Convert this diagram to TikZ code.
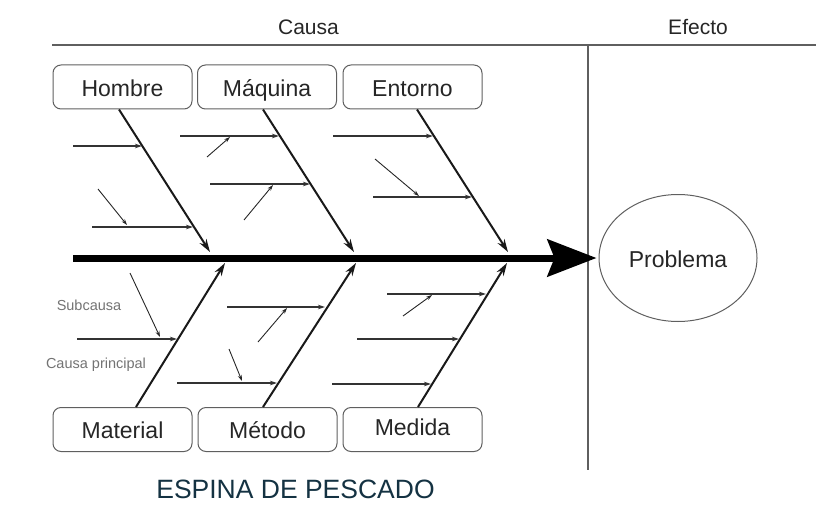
\documentclass[tikz,border=0pt]{standalone}
\usepackage{fontspec}
\setmainfont{Liberation Sans}
\usetikzlibrary{arrows.meta,shapes.geometric}
\definecolor{capcol}{RGB}{20,50,66}
\definecolor{framecol}{RGB}{95,95,95}
\begin{document}
\begin{tikzpicture}[x=1pt,y=-1pt,
  box/.style={draw=framecol,line width=1pt,rounded corners=8pt,minimum width=139pt,minimum height=44pt,inner sep=0pt,font=\fontsize{23}{26}\selectfont,text=black!85,text height=20pt,text depth=0pt},
  bone/.style={line width=2pt,draw=black!90,-{Stealth[length=13pt,width=8pt]}},
  sub/.style={line width=1.1pt,draw=black!80,-{Stealth[length=7pt,width=4.5pt]}},
  diag/.style={line width=0.9pt,draw=black!85,-{Stealth[length=6pt,width=4pt]}},
  head/.style={font=\fontsize{21}{24}\selectfont,text=black!85,anchor=base,inner sep=0pt},
  small/.style={font=\fontsize{14.5}{16}\selectfont,text=black!55,anchor=base,inner sep=0pt},
  frame/.style={draw=framecol,line width=1.2pt}]
\useasboundingbox (0,0) rectangle (826,508);
% header
\coordinate (tl) at (52,45);
\coordinate (tr) at (816,45);
\coordinate (vt) at (588,45);
\coordinate (vb) at (588,470);
\draw[frame] (tl) -- (tr);
\draw[frame] (vt) -- (vb);
\node[head] (causa) at (308.5,35) {Causa};
\node[head] (efecto) at (698,35) {Efecto};
% boxes
\node[box] (hom) at (122.5,87) {Hombre};
\node[box] (maq) at (267,87) {Máquina};
\node[box] (ent) at (412.5,87) {Entorno};
\node[box,text height=17pt] (mat) at (122.5,429.5) {Material};
\node[box,text height=17pt] (met) at (267.5,429.5) {Método};
\node[box,text height=11pt] (med) at (412.5,429.5) {Medida};
% effect
\node[draw=framecol,line width=1pt,ellipse,minimum width=158pt,minimum height=127pt,inner sep=0pt,font=\fontsize{23}{26}\selectfont,text=black!85,text height=18pt,text depth=0pt] (prob) at (678,258) {Problema};
% spine
\coordinate (sp0) at (73,258);
\draw[line width=7pt,-{Stealth[length=49pt,width=37pt,inset=7pt]}] (sp0) -- ([xshift=-2pt]prob.west);
% bone tips
\coordinate (bh) at (210,252);
\coordinate (bq) at (354,252);
\coordinate (be) at (508,252);
\coordinate (ba) at (225,263);
\coordinate (bt) at (356,263);
\coordinate (bd) at (507,263);
\draw[bone] ([xshift=-3.5pt]hom.south) -- (bh);
\draw[bone] ([xshift=-4pt]maq.south) -- (bq);
\draw[bone] ([xshift=4.5pt]ent.south) -- (be);
\draw[bone] ([xshift=13.5pt]mat.north) -- (ba);
\draw[bone] ([xshift=-4.5pt]met.north) -- (bt);
\draw[bone] ([xshift=5.5pt]med.north) -- (bd);
% Hombre subcauses
\coordinate (h1a) at (73,146);  \coordinate (h1b) at (142,146);
\coordinate (h2a) at (92,227);  \coordinate (h2b) at (193,227);
\coordinate (h3a) at (98,189);  \coordinate (h3b) at (127,225);
\draw[sub] (h1a) -- (h1b);
\draw[sub] (h2a) -- (h2b);
\draw[diag] (h3a) -- (h3b);
% Maquina subcauses
\coordinate (m1a) at (180,136); \coordinate (m1b) at (279,136);
\coordinate (m2a) at (210,184); \coordinate (m2b) at (310,184);
\coordinate (m3a) at (207,157); \coordinate (m3b) at (230,137);
\coordinate (m4a) at (244,220); \coordinate (m4b) at (273,185);
\draw[sub] (m1a) -- (m1b);
\draw[sub] (m2a) -- (m2b);
\draw[diag] (m3a) -- (m3b);
\draw[diag] (m4a) -- (m4b);
% Entorno subcauses
\coordinate (e1a) at (333,136); \coordinate (e1b) at (433,136);
\coordinate (e2a) at (373,197); \coordinate (e2b) at (472,197);
\coordinate (e3a) at (375,159); \coordinate (e3b) at (419,196);
\draw[sub] (e1a) -- (e1b);
\draw[sub] (e2a) -- (e2b);
\draw[diag] (e3a) -- (e3b);
% Material subcauses
\coordinate (a1a) at (77,339);  \coordinate (a1b) at (177,339);
\coordinate (a2a) at (130,273); \coordinate (a2b) at (160,337);
\draw[sub] (a1a) -- (a1b);
\draw[diag] (a2a) -- (a2b);
\node[small] (subc) at (89,310) {Subcausa};
\node[small] (cprin) at (96,368) {Causa principal};
% Metodo subcauses
\coordinate (t1a) at (227,307); \coordinate (t1b) at (325,307);
\coordinate (t2a) at (177,383); \coordinate (t2b) at (277,383);
\coordinate (t3a) at (258,342); \coordinate (t3b) at (287,308);
\coordinate (t4a) at (229,349); \coordinate (t4b) at (242,381);
\draw[sub] (t1a) -- (t1b);
\draw[sub] (t2a) -- (t2b);
\draw[diag] (t3a) -- (t3b);
\draw[diag] (t4a) -- (t4b);
% Medida subcauses
\coordinate (d1a) at (387,294); \coordinate (d1b) at (486,294);
\coordinate (d2a) at (357,339); \coordinate (d2b) at (459,339);
\coordinate (d3a) at (332,384); \coordinate (d3b) at (431,384);
\coordinate (d4a) at (403,316); \coordinate (d4b) at (432,295);
\draw[sub] (d1a) -- (d1b);
\draw[sub] (d2a) -- (d2b);
\draw[sub] (d3a) -- (d3b);
\draw[diag] (d4a) -- (d4b);
% caption
\node[font=\fontsize{26.5}{29}\selectfont,text=capcol,anchor=base,inner sep=0pt] (cap) at (295.5,498) {ESPINA DE PESCADO};
\end{tikzpicture}
\end{document}
